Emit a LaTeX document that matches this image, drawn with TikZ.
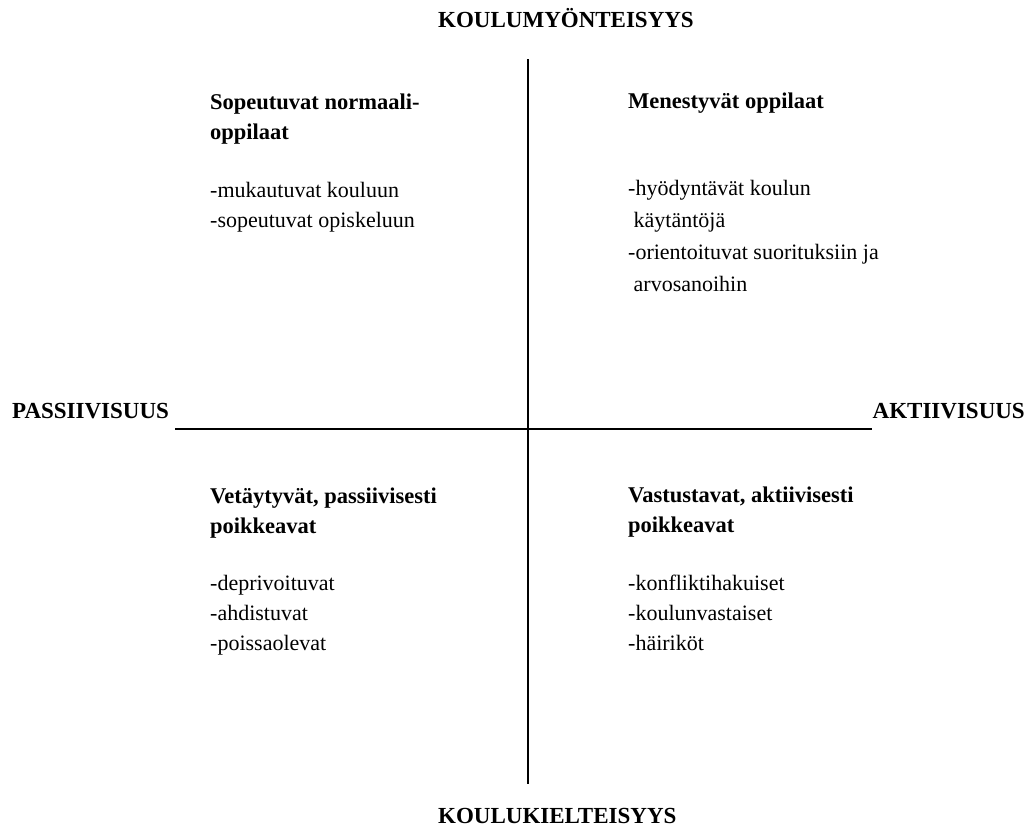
\documentclass[tikz,border=0pt]{standalone}
\usepackage{fontspec}
\setmainfont{Liberation Serif}
\tikzset{axislabel/.style = {font=\fontsize{23}{26}\selectfont\bfseries, inner sep=0pt, anchor=base west}}
\tikzset{quadtitle/.style = {font=\fontsize{22.5}{30}\selectfont\bfseries, inner sep=0pt, anchor=north west, align=left}}
\tikzset{quaditems/.style = {font=\fontsize{22}{30}\selectfont, inner sep=0pt, anchor=north west, align=left}}
\tikzset{axis/.style = {-, line width=1.5pt}}

\begin{document}
\begin{tikzpicture}[x=1pt,y=-1pt]
\useasboundingbox (0,0) rectangle (1032,836);
% axis labels
\node[axislabel] (top) at (438,27) {KOULUMYÖNTEISYYS};
\node[axislabel] (bottom) at (438,823) {KOULUKIELTEISYYS};
\node[axislabel] (passive) at (12,418) {PASSIIVISUUS};
\node[axislabel, anchor=base east] (active) at (1025,418) {AKTIIVISUUS};
% axis ends
\coordinate (n) at (528,59);
\coordinate (s) at (528,784);
\coordinate (w) at (175,429);
\coordinate (e) at (872,429);
% quadrants
\node[quadtitle] (tl) at (210,94) {Sopeutuvat normaali-\\oppilaat};
\node[quaditems] (tlitems) at (210,182) {-mukautuvat kouluun\\-sopeutuvat opiskeluun};
\node[quadtitle] (tr) at (628,93) {Menestyvät oppilaat};
\node[quaditems, font=\fontsize{22}{32}\selectfont] (tritems) at (628,180) {-hyödyntävät koulun\\\hspace*{0.25em}käytäntöjä\\-orientoituvat suorituksiin ja\\\hspace*{0.25em}arvosanoihin};
\node[quadtitle] (bl) at (210,488) {Vetäytyvät, passiivisesti\\poikkeavat};
\node[quaditems] (blitems) at (210,575) {-deprivoituvat\\-ahdistuvat\\-poissaolevat};
\node[quadtitle] (br) at (628,487) {Vastustavat, aktiivisesti\\poikkeavat};
\node[quaditems] (britems) at (628,575) {-konfliktihakuiset\\-koulunvastaiset\\-häiriköt};
%edges
\draw[axis] (n) to (s);
\draw[axis] (w) to (e);
\end{tikzpicture}
\end{document}
